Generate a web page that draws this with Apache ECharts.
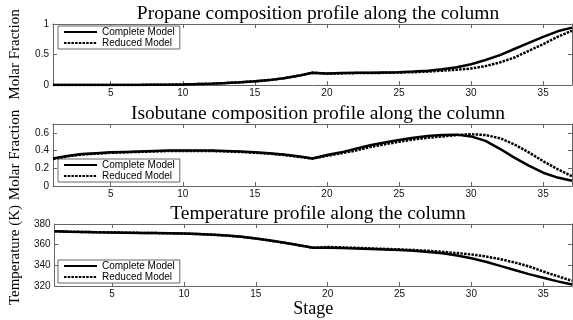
<!DOCTYPE html>
<html>
<head>
<meta charset="utf-8">
<script src="https://cdn.jsdelivr.net/npm/echarts@6/dist/echarts.min.js"></script>
<style>
  html, body { margin: 0; padding: 0; background: #fff; }
  #chart { width: 573px; height: 320px; }
</style>
</head>
<body>
<div id="chart"></div>
<script>
// stages along the column
const stages = [];
for (let s = 1; s <= 37; s++) stages.push(s);
const stageTicks = [5, 10, 15, 20, 25, 30, 35];

// propane molar fraction
const propaneComplete = [0, 0, 0, 0, 0, 0.001, 0.002, 0.004, 0.006, 0.01, 0.015, 0.022, 0.032, 0.045, 0.06, 0.08, 0.11, 0.15, 0.2,
  0.19, 0.195, 0.2, 0.2, 0.205, 0.21, 0.22, 0.235, 0.26, 0.29, 0.34, 0.41, 0.49, 0.59, 0.69, 0.79, 0.88, 0.94];
const propaneReduced = [0, 0, 0, 0, 0, 0.001, 0.002, 0.004, 0.006, 0.01, 0.015, 0.022, 0.032, 0.045, 0.06, 0.08, 0.11, 0.15, 0.2,
  0.185, 0.19, 0.195, 0.195, 0.2, 0.205, 0.21, 0.22, 0.235, 0.25, 0.27, 0.31, 0.37, 0.45, 0.56, 0.67, 0.79, 0.89];

// isobutane molar fraction
const isobutaneComplete = [0.31, 0.34, 0.36, 0.37, 0.38, 0.385, 0.39, 0.395, 0.4, 0.4, 0.4, 0.4, 0.395, 0.39, 0.38, 0.37, 0.355, 0.335, 0.31,
  0.35, 0.38, 0.42, 0.46, 0.49, 0.52, 0.545, 0.565, 0.575, 0.58, 0.56, 0.51, 0.42, 0.32, 0.23, 0.15, 0.095, 0.06];
const isobutaneReduced = [0.305, 0.335, 0.355, 0.365, 0.375, 0.38, 0.385, 0.39, 0.395, 0.395, 0.395, 0.395, 0.39, 0.385, 0.375, 0.365, 0.35, 0.33, 0.31,
  0.34, 0.37, 0.4, 0.44, 0.47, 0.5, 0.525, 0.545, 0.56, 0.575, 0.585, 0.575, 0.54, 0.47, 0.38, 0.28, 0.19, 0.11];

// temperature (K)
const tempComplete = [373, 372.6, 372.3, 372, 371.8, 371.6, 371.4, 371.2, 371, 370.7, 370.3, 369.7, 368.8, 367.6, 366, 364, 361.8, 359.5, 357,
  357, 356.7, 356.3, 355.9, 355.4, 354.8, 354, 353, 351.6, 349.5, 346.8, 343.5, 339.5, 335.5, 331.5, 328, 324.5, 321.5];
const tempReduced = [373, 372.6, 372.3, 372, 371.8, 371.6, 371.4, 371.2, 371, 370.7, 370.3, 369.7, 368.8, 367.6, 366, 364, 361.8, 359.5, 357,
  357.8, 357.3, 356.9, 356.4, 355.9, 355.4, 354.8, 354, 353, 351.9, 350.5, 348.6, 346, 342.8, 339, 334, 329.5, 325];

const titles = ['Propane composition profile along the column',
  'Isobutane composition profile along the column',
  'Temperature profile along the column'];
const yNames = ['Molar Fraction', 'Molar Fraction', 'Temperature (K)'];

const serif = '"Liberation Serif", "Times New Roman", serif';
const sans = '"Liberation Sans", Arial, sans-serif';
const frame = '#666';

const grids = [
  { left: 53, right: 1, top: 24, height: 61 },
  { left: 53, right: 1, top: 124, height: 62 },
  { left: 53, right: 1, top: 224, height: 62 }
];
const yRanges = [
  { min: 0, max: 1, interval: 0.5 },
  { min: 0, max: 0.7, interval: 0.2 },
  { min: 320, max: 380, interval: 20 }
];
const legendTops = [26, 159, 260];

function pairs(vals) {
  return stages.map((s, i) => [s, vals[i]]);
}

const xAxis = [], yAxis = [], series = [], legend = [], title = [];
grids.forEach((g, i) => {
  ['bottom', 'top'].forEach(pos => {
    xAxis.push({
      type: 'value', gridIndex: i, position: pos, min: 1, max: 37,
      name: (i === 2 && pos === 'bottom') ? 'Stage' : '',
      nameLocation: 'middle', nameGap: 9,
      nameTextStyle: { fontFamily: serif, fontSize: 18, color: '#000' },
      axisLine: { show: true, onZero: false, lineStyle: { color: frame, width: 1 } },
      axisTick: { show: true, inside: true, length: 4, customValues: stageTicks, lineStyle: { color: frame } },
      axisLabel: { show: pos === 'bottom', customValues: stageTicks, margin: 3, fontSize: 10, fontFamily: sans, color: '#111' },
      splitLine: { show: false }
    });
  });
  ['left', 'right'].forEach(pos => {
    yAxis.push(Object.assign({
      type: 'value', gridIndex: i, position: pos,
      name: pos === 'left' ? yNames[i] : '',
      nameLocation: 'middle', nameGap: 30,
      nameTextStyle: { fontFamily: serif, fontSize: 15, color: '#000' },
      axisLine: { show: true, onZero: false, lineStyle: { color: frame, width: 1 } },
      axisTick: { show: true, inside: true, length: 4, lineStyle: { color: frame } },
      axisLabel: { show: pos === 'left', margin: 4, fontSize: 10, fontFamily: sans, color: '#111', showMaxLabel: i !== 1 },
      splitLine: { show: false }
    }, yRanges[i]));
  });
  title.push({
    text: titles[i], left: 313, textAlign: 'center', top: -1 + i * 100,
    textStyle: { fontFamily: serif, fontSize: 19.5, fontWeight: 'normal', color: '#000' }
  });
  legend.push({
    orient: 'vertical', left: 58, top: legendTops[i],
    data: ['Complete Model', 'Reduced Model'],
    backgroundColor: '#fff', borderColor: frame, borderWidth: 1,
    padding: [1, 5, 1, 5], itemGap: 1, itemWidth: 33, itemHeight: 8,
    itemStyle: { opacity: 0 },
    textStyle: { fontSize: 10, fontFamily: sans, color: '#000', lineHeight: 10 },
    selectedMode: false
  });
});

const sets = [
  [propaneComplete, propaneReduced],
  [isobutaneComplete, isobutaneReduced],
  [tempComplete, tempReduced]
];
sets.forEach((pair, i) => {
  series.push({
    name: 'Complete Model', type: 'line', xAxisIndex: i * 2, yAxisIndex: i * 2,
    data: pairs(pair[0]), symbol: 'none', color: '#000',
    lineStyle: { color: '#000', width: 2.5 }, z: 3
  });
  series.push({
    name: 'Reduced Model', type: 'line', xAxisIndex: i * 2, yAxisIndex: i * 2,
    data: pairs(pair[1]), symbol: 'none', color: '#000',
    lineStyle: { color: '#000', width: 2.5, type: [2.5, 1.2] }, z: 4
  });
});

const myChart = echarts.init(document.getElementById('chart'), null, { renderer: 'canvas' });
myChart.setOption({
  animation: false,
  backgroundColor: '#fff',
  title: title,
  legend: legend,
  grid: grids,
  xAxis: xAxis,
  yAxis: yAxis,
  series: series
});
</script>
</body>
</html>
